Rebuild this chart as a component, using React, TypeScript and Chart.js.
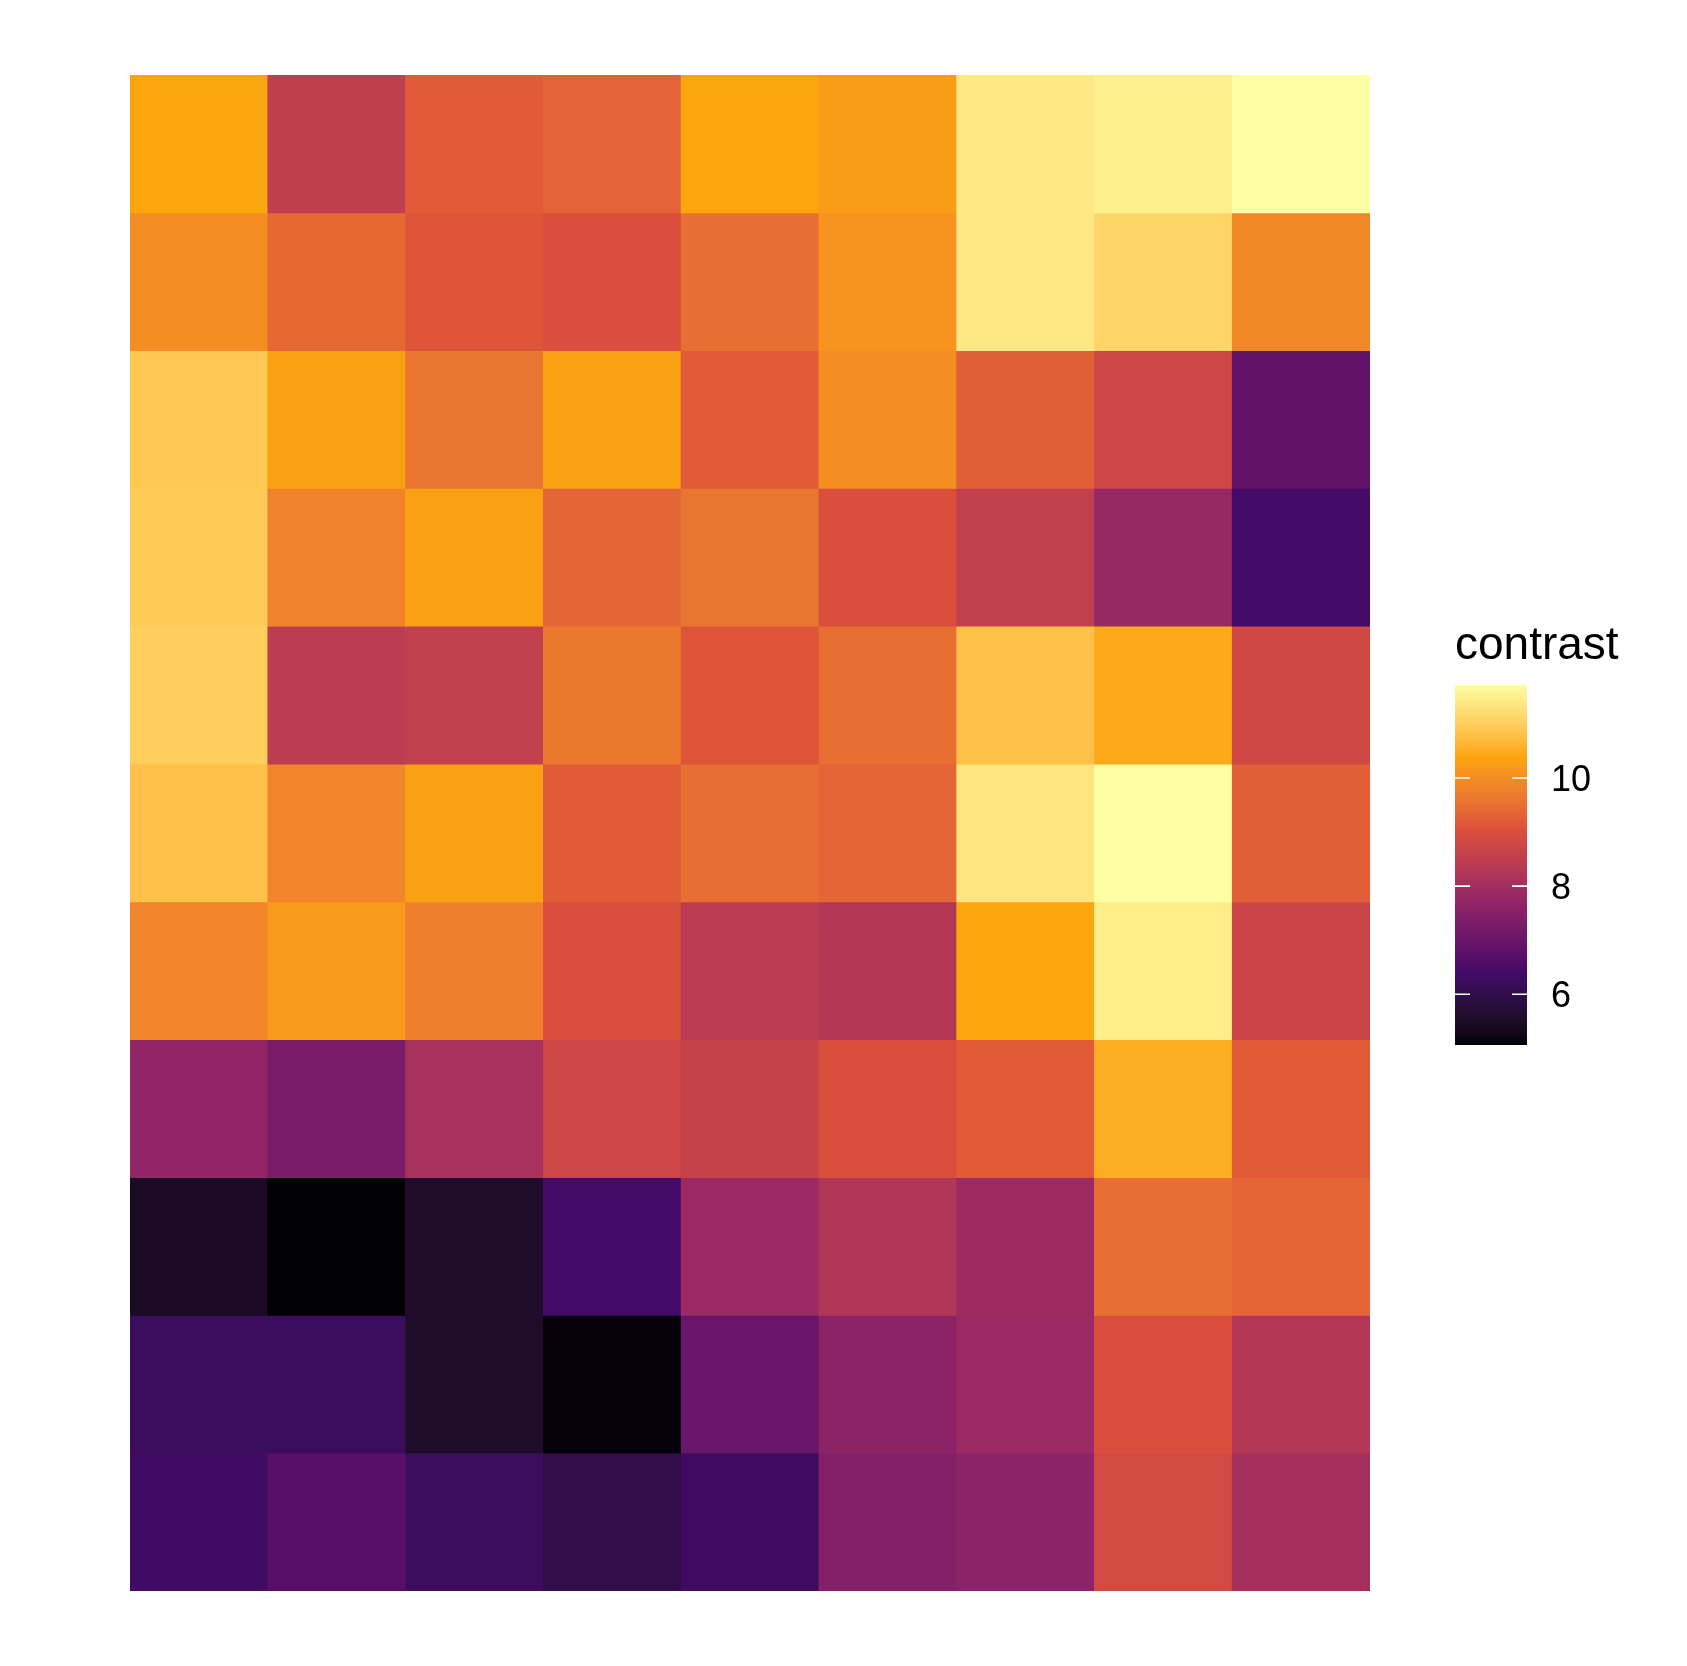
import React, { useEffect, useRef } from 'react';
import { Chart, registerables } from 'chart.js';

Chart.register(...registerables);

// ---- data ----
const xCategories = ['1', '2', '3', '4', '5', '6', '7', '8', '9'];
const yCategories = ['1', '2', '3', '4', '5', '6', '7', '8', '9', '10', '11']; // bottom -> top

// contrast values, listed from the top row down to the bottom row
const row01 = [10.4, 8.5, 9.2, 9.3, 10.4, 10.25, 11.4, 11.5, 11.72];
const row02 = [10.0, 9.4, 9.1, 9.0, 9.5, 10.1, 11.4, 11.1, 9.9];
const row03 = [10.9, 10.3, 9.6, 10.3, 9.2, 10.0, 9.25, 8.75, 6.85];
const row04 = [10.95, 9.8, 10.3, 9.35, 9.6, 9.0, 8.55, 7.8, 6.4];
const row05 = [11.0, 8.45, 8.55, 9.65, 9.1, 9.5, 10.8, 10.45, 8.8];
const row06 = [10.8, 9.85, 10.3, 9.2, 9.5, 9.35, 11.35, 11.7, 9.25];
const row07 = [9.85, 10.2, 9.75, 9.0, 8.45, 8.3, 10.4, 11.45, 8.7];
const row08 = [7.7, 7.3, 8.1, 8.75, 8.6, 9.0, 9.2, 10.5, 9.2];
const row09 = [5.45, 5.06, 5.55, 6.4, 7.85, 8.25, 7.9, 9.5, 9.35];
const row10 = [6.25, 6.25, 5.55, 5.12, 7.0, 7.6, 7.85, 9.0, 8.3];
const row11 = [6.35, 6.7, 6.25, 6.0, 6.3, 7.45, 7.6, 8.85, 8.05];

const rowsTopDown = [row01, row02, row03, row04, row05, row06, row07, row08, row09, row10, row11];

const legendTitle = 'contrast';
const legendTicks = [6, 8, 10];

// ---- inferno colour map (6 anchor colours, interpolated in CIE Lab) ----
const infernoAnchors = ['#000004', '#420A68', '#932667', '#DD513A', '#FCA50A', '#FCFFA4'];

function hexToRgb(h: string) {
  const n = parseInt(h.slice(1), 16);
  return [(n >> 16) & 255, (n >> 8) & 255, n & 255];
}
const Xn = 0.95047, Yn = 1.0, Zn = 1.08883;
function srgbToLab(rgb: number[]) {
  const lin = rgb.map((c) => {
    const v = c / 255;
    return v <= 0.04045 ? v / 12.92 : Math.pow((v + 0.055) / 1.055, 2.4);
  });
  const X = 0.4124564 * lin[0] + 0.3575761 * lin[1] + 0.1804375 * lin[2];
  const Y = 0.2126729 * lin[0] + 0.7151522 * lin[1] + 0.072175 * lin[2];
  const Z = 0.0193339 * lin[0] + 0.119192 * lin[1] + 0.9503041 * lin[2];
  const f = (t: number) => (t > 216 / 24389 ? Math.cbrt(t) : (24389 / 27 * t + 16) / 116);
  const fx = f(X / Xn), fy = f(Y / Yn), fz = f(Z / Zn);
  return [116 * fy - 16, 500 * (fx - fy), 200 * (fy - fz)];
}
function labToSrgb(lab: number[]) {
  const fy = (lab[0] + 16) / 116;
  const fx = fy + lab[1] / 500;
  const fz = fy - lab[2] / 200;
  const inv = (t: number) => (t * t * t > 216 / 24389 ? t * t * t : (116 * t - 16) / (24389 / 27));
  const X = inv(fx) * Xn, Y = inv(fy) * Yn, Z = inv(fz) * Zn;
  const r = 3.2404542 * X - 1.5371385 * Y - 0.4985314 * Z;
  const g = -0.969266 * X + 1.8760108 * Y + 0.041556 * Z;
  const b = 0.0556434 * X - 0.2040259 * Y + 1.0572252 * Z;
  return [r, g, b].map((v) => {
    const c = v <= 0.0031308 ? 12.92 * v : 1.055 * Math.pow(v, 1 / 2.4) - 0.055;
    return Math.round(Math.max(0, Math.min(1, c)) * 255);
  });
}
const anchorLabs = infernoAnchors.map((h) => srgbToLab(hexToRgb(h)));

function inferno(t: number): string {
  const tt = Math.max(0, Math.min(1, t));
  const seg = Math.min(anchorLabs.length - 2, Math.floor(tt * (anchorLabs.length - 1)));
  const f = tt * (anchorLabs.length - 1) - seg;
  const a = anchorLabs[seg], b = anchorLabs[seg + 1];
  const lab = [a[0] + (b[0] - a[0]) * f, a[1] + (b[1] - a[1]) * f, a[2] + (b[2] - a[2]) * f];
  const rgb = labToSrgb(lab);
  return `rgb(${rgb[0]},${rgb[1]},${rgb[2]})`;
}

const allValues = rowsTopDown.flat();
const vMin = Math.min(...allValues);
const vMax = Math.max(...allValues);
const colorFor = (v: number) => inferno((v - vMin) / (vMax - vMin));

// ---- legend plugin (colour bar) ----
const colorBarPlugin = {
  id: 'colorBar',
  afterDraw(chart: any) {
    const ctx = chart.ctx as CanvasRenderingContext2D;
    const x = 1455;
    const w = 72;
    const top = 685;
    const bottom = 1045;
    const h = bottom - top;
    ctx.save();
    const grad = ctx.createLinearGradient(0, bottom, 0, top);
    const nstops = 100;
    for (let i = 0; i <= nstops; i++) grad.addColorStop(i / nstops, inferno(i / nstops));
    ctx.fillStyle = grad;
    ctx.fillRect(x, top, w, h);
    // ticks
    ctx.strokeStyle = '#ffffff';
    ctx.lineWidth = 1.6;
    ctx.fillStyle = '#000000';
    ctx.font = '36px "Liberation Sans", Arial, sans-serif';
    ctx.textAlign = 'left';
    ctx.textBaseline = 'alphabetic';
    legendTicks.forEach((v) => {
      const y = bottom - ((v - vMin) / (vMax - vMin)) * h;
      ctx.beginPath();
      ctx.moveTo(x, y);
      ctx.lineTo(x + 15, y);
      ctx.moveTo(x + w - 15, y);
      ctx.lineTo(x + w, y);
      ctx.stroke();
      ctx.fillText(String(v), 1551, y + 13);
    });
    // title
    ctx.font = '46px "Liberation Sans", Arial, sans-serif';
    ctx.fillText(legendTitle, 1455, 659);
    ctx.restore();
  },
};

export default function App() {
  const canvasRef = useRef<HTMLCanvasElement | null>(null);

  useEffect(() => {
    if (!canvasRef.current) return;
    const nRows = yCategories.length;
    const datasets = rowsTopDown.map((row, idxTop) => {
      const idx = nRows - 1 - idxTop; // position from bottom
      return {
        label: yCategories[idx],
        data: row.map(() => [idx, idx + 1]),
        backgroundColor: row.map(colorFor),
        borderWidth: 0,
        borderSkipped: false,
        grouped: false,
        barPercentage: 1,
        categoryPercentage: 1,
      };
    });

    const chart = new Chart(canvasRef.current, {
      type: 'bar',
      data: { labels: xCategories, datasets: datasets as any },
      options: {
        responsive: false,
        maintainAspectRatio: false,
        animation: false,
        events: [],
        layout: { padding: { left: 130, top: 75, right: 317, bottom: 75 } },
        plugins: { legend: { display: false }, tooltip: { enabled: false } },
        scales: {
          x: { type: 'category', display: false, offset: true, grid: { display: false } },
          y: { type: 'linear', display: false, min: 0, max: nRows, grid: { display: false } },
        },
      },
      plugins: [colorBarPlugin],
    });
    return () => chart.destroy();
  }, []);

  return (
    <div style={{ position: 'absolute', left: 0, top: 0, width: 1687, height: 1666, background: '#ffffff' }}>
      <canvas ref={canvasRef} width={1687} height={1666} style={{ display: 'block', width: 1687, height: 1666 }} />
    </div>
  );
}
